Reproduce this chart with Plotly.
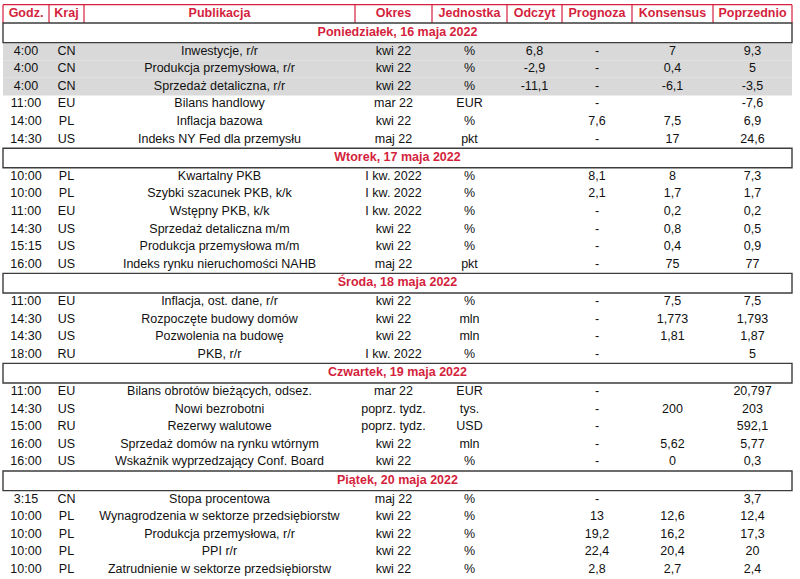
import plotly.graph_objects as go

# ---------------- data ----------------
headers = ["Godz.", "Kraj", "Publikacja", "Okres", "Jednostka", "Odczyt", "Prognoza", "Konsensus", "Poprzednio"]

day_titles = ["Poniedziałek, 16 maja 2022", "Wtorek, 17 maja 2022", "Środa, 18 maja 2022",
              "Czwartek, 19 maja 2022", "Piątek, 20 maja 2022"]
day_sizes = [6, 6, 4, 5, 5]

godz = ["4:00", "4:00", "4:00", "11:00", "14:00", "14:30",
        "10:00", "10:00", "11:00", "14:30", "15:15", "16:00",
        "11:00", "14:30", "14:30", "18:00",
        "11:00", "14:30", "15:00", "16:00", "16:00",
        "3:15", "10:00", "10:00", "10:00", "10:00"]
kraj = ["CN", "CN", "CN", "EU", "PL", "US",
        "PL", "PL", "EU", "US", "US", "US",
        "EU", "US", "US", "RU",
        "EU", "US", "RU", "US", "US",
        "CN", "PL", "PL", "PL", "PL"]
publikacja = ["Inwestycje, r/r", "Produkcja przemysłowa, r/r", "Sprzedaż detaliczna, r/r",
              "Bilans handlowy", "Inflacja bazowa", "Indeks NY Fed dla przemysłu",
              "Kwartalny PKB", "Szybki szacunek PKB, k/k", "Wstępny PKB, k/k",
              "Sprzedaż detaliczna m/m", "Produkcja przemysłowa m/m", "Indeks rynku nieruchomości NAHB",
              "Inflacja, ost. dane, r/r", "Rozpoczęte budowy domów", "Pozwolenia na budowę", "PKB, r/r",
              "Bilans obrotów bieżących, odsez.", "Nowi bezrobotni", "Rezerwy walutowe",
              "Sprzedaż domów na rynku wtórnym", "Wskaźnik wyprzedzający Conf. Board",
              "Stopa procentowa", "Wynagrodzenia w sektorze przedsiębiorstw", "Produkcja przemysłowa, r/r",
              "PPI r/r", "Zatrudnienie w sektorze przedsiębiorstw"]
okres = ["kwi 22", "kwi 22", "kwi 22", "mar 22", "kwi 22", "maj 22",
         "I kw. 2022", "I kw. 2022", "I kw. 2022", "kwi 22", "kwi 22", "maj 22",
         "kwi 22", "kwi 22", "kwi 22", "I kw. 2022",
         "mar 22", "poprz. tydz.", "poprz. tydz.", "kwi 22", "kwi 22",
         "maj 22", "kwi 22", "kwi 22", "kwi 22", "kwi 22"]
jednostka = ["%", "%", "%", "EUR", "%", "pkt",
             "%", "%", "%", "%", "%", "pkt",
             "%", "mln", "mln", "%",
             "EUR", "tys.", "USD", "mln", "%",
             "%", "%", "%", "%", "%"]
odczyt = ["6,8", "-2,9", "-11,1", "", "", "",
          "", "", "", "", "", "",
          "", "", "", "",
          "", "", "", "", "",
          "", "", "", "", ""]
prognoza = ["-", "-", "-", "-", "7,6", "-",
            "8,1", "2,1", "-", "-", "-", "-",
            "-", "-", "-", "-",
            "-", "-", "-", "-", "-",
            "-", "13", "19,2", "22,4", "2,8"]
konsensus = ["7", "0,4", "-6,1", "", "7,5", "17",
             "8", "1,7", "0,2", "0,8", "0,4", "75",
             "7,5", "1,773", "1,81", "",
             "", "200", "", "5,62", "0",
             "", "12,6", "16,2", "20,4", "2,7"]
poprzednio = ["9,3", "5", "-3,5", "-7,6", "6,9", "24,6",
              "7,3", "1,7", "0,2", "0,5", "0,9", "77",
              "7,5", "1,793", "1,87", "5",
              "20,797", "203", "592,1", "5,77", "0,3",
              "3,7", "12,4", "17,3", "20", "2,4"]
shaded_rows = [0, 1, 2]

columns = [godz, kraj, publikacja, okres, jednostka, odczyt, prognoza, konsensus, poprzednio]

# ---------------- geometry / style ----------------
W, H = 800, 579
col_edges = [3, 49, 84, 355, 432, 507, 562, 632, 713, 792]
col_centers = [(a + b) / 2 for a, b in zip(col_edges[:-1], col_edges[1:])]
header_top = 4.7
table_top = 23.0
day_h = 19.6
row_h = 17.6
RED = "#d41f3d"
DARK = "#3c3c3c"
GRAY = "#d9d9d9"
FONT = "Liberation Sans, Arial, sans-serif"
FS = 12.5

# compute row positions
row_y = []
row_top = []
day_y = []
y = table_top
for n in day_sizes:
    day_y.append((y, y + day_h))
    y += day_h
    for _ in range(n):
        row_top.append(y)
        row_y.append(y + row_h / 2)
        y += row_h

fig = go.Figure()
shapes = []

for i in shaded_rows:
    shapes.append(dict(type="rect", xref="x", yref="y", x0=col_edges[0], x1=col_edges[-1],
                       y0=row_top[i], y1=row_top[i] + row_h, fillcolor=GRAY,
                       line=dict(width=0), layer="below"))

shapes.append(dict(type="line", xref="x", yref="y", x0=col_edges[0], x1=col_edges[-1],
                   y0=header_top, y1=header_top, line=dict(color=RED, width=1.2)))
for xe in col_edges:
    shapes.append(dict(type="line", xref="x", yref="y", x0=xe, x1=xe,
                       y0=header_top, y1=table_top, line=dict(color=RED, width=1.2)))

for (t, b) in day_y:
    shapes.append(dict(type="rect", xref="x", yref="y", x0=col_edges[0], x1=col_edges[-1],
                       y0=t, y1=b, line=dict(color=DARK, width=1.4), fillcolor="rgba(0,0,0,0)"))

fig.add_trace(go.Scatter(
    x=col_centers, y=[(header_top + table_top) / 2] * len(headers),
    text=["<b>" + h + "</b>" for h in headers], mode="text",
    textposition="middle center",
    textfont=dict(family=FONT, size=FS, color=RED),
    hoverinfo="skip", showlegend=False))

fig.add_trace(go.Scatter(
    x=[(col_edges[0] + col_edges[-1]) / 2] * len(day_titles),
    y=[(t + b) / 2 for t, b in day_y],
    text=["<b>" + d + "</b>" for d in day_titles], mode="text",
    textposition="middle center",
    textfont=dict(family=FONT, size=FS, color=RED),
    hoverinfo="skip", showlegend=False))

for cx, col in zip(col_centers, columns):
    fig.add_trace(go.Scatter(
        x=[cx] * len(col), y=row_y, text=col, mode="text",
        textposition="middle center",
        textfont=dict(family=FONT, size=FS, color="#111111"),
        hoverinfo="skip", showlegend=False))

fig.update_layout(
    width=W, height=H, margin=dict(l=0, r=0, t=0, b=0),
    paper_bgcolor="white", plot_bgcolor="white",
    xaxis=dict(range=[0, W], visible=False, fixedrange=True),
    yaxis=dict(range=[H, 0], visible=False, fixedrange=True),
    shapes=shapes, showlegend=False,
)

fig.write_html("out.html", config={"displayModeBar": False, "staticPlot": True},
               post_script="document.body.style.margin='0';document.body.style.padding='0';")
